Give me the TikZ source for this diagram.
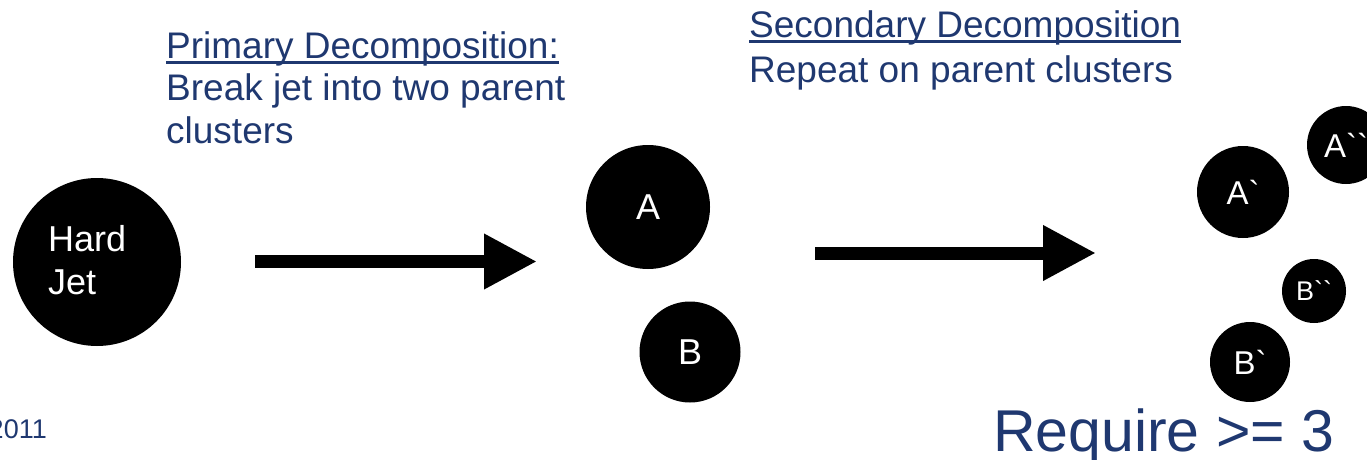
\documentclass[tikz,border=0pt]{standalone}
\usepackage{fontspec}
\setmainfont{Liberation Sans}
\usetikzlibrary{arrows.meta}
\definecolor{navy}{RGB}{31,56,112}
\newcommand{\gr}{\textasciigrave}
% heavier underline, as used for the caption titles
\newcommand{\ulbox}[1]{\leavevmode\setbox0\hbox{#1}\rlap{\rule[-5.5pt]{\wd0}{2.5pt}}\box0}
\begin{document}
\begin{tikzpicture}[x=1pt,y=-1pt,
  blob/.style={circle,fill=black,inner sep=0pt,text=white,font=\fontsize{36}{36}\selectfont},
  heading/.style={anchor=base west,inner sep=0pt,text=navy,align=left},
  bigarrow/.style={line width=13pt,-{Triangle[length=53pt,width=52pt]}}]
\useasboundingbox (0,0) rectangle (1367,460);

% clusters
\node[blob,minimum size=168pt] (jet) at (97,262) {};
\node[anchor=base west,inner sep=0pt,text=white,align=left,font=\fontsize{36}{43}\selectfont] (jettext) at (48,294) {Hard\\Jet};
\node[blob,minimum size=124pt] (A) at (648,207) {A};
\node[blob,minimum size=101pt] (B) at (690,352) {B};
\node[blob,minimum size=92pt,font=\fontsize{33}{33}\selectfont] (A1) at (1243,192) {A\gr};
\node[blob,minimum size=78pt,font=\fontsize{33}{33}\selectfont] (A2) at (1346,145) {A\gr\gr};
\node[blob,minimum size=64pt,font=\fontsize{27}{27}\selectfont] (B2) at (1314,291) {B\gr\gr};
\node[blob,minimum size=80pt,font=\fontsize{33}{33}\selectfont] (B1) at (1250,362) {B\gr};

% arrows
\coordinate (a1s) at (255,261.5);
\coordinate (a1e) at (537,261.5);
\coordinate (a2s) at (815,253);
\coordinate (a2e) at (1096,253);
\draw[bigarrow] (a1s) -- (a1e);
\draw[bigarrow] (a2s) -- (a2e);

% captions
\node[heading,font=\fontsize{37}{42.5}\selectfont] (prim) at (166,143) {\ulbox{Primary Decomposition:}\\Break jet into two parent\\clusters};
\node[heading,font=\fontsize{37}{45}\selectfont] (sec) at (749,82) {\ulbox{Secondary Decomposition}\\Repeat on parent clusters};
\node[anchor=base west,inner sep=0pt,text=navy,font=\fontsize{59}{59}\selectfont] (req) at (993,451) {Require >= 3};
\node[anchor=base east,inner sep=0pt,text=navy,font=\fontsize{27}{27}\selectfont] (year) at (47,438) {2011};
\end{tikzpicture}
\end{document}
